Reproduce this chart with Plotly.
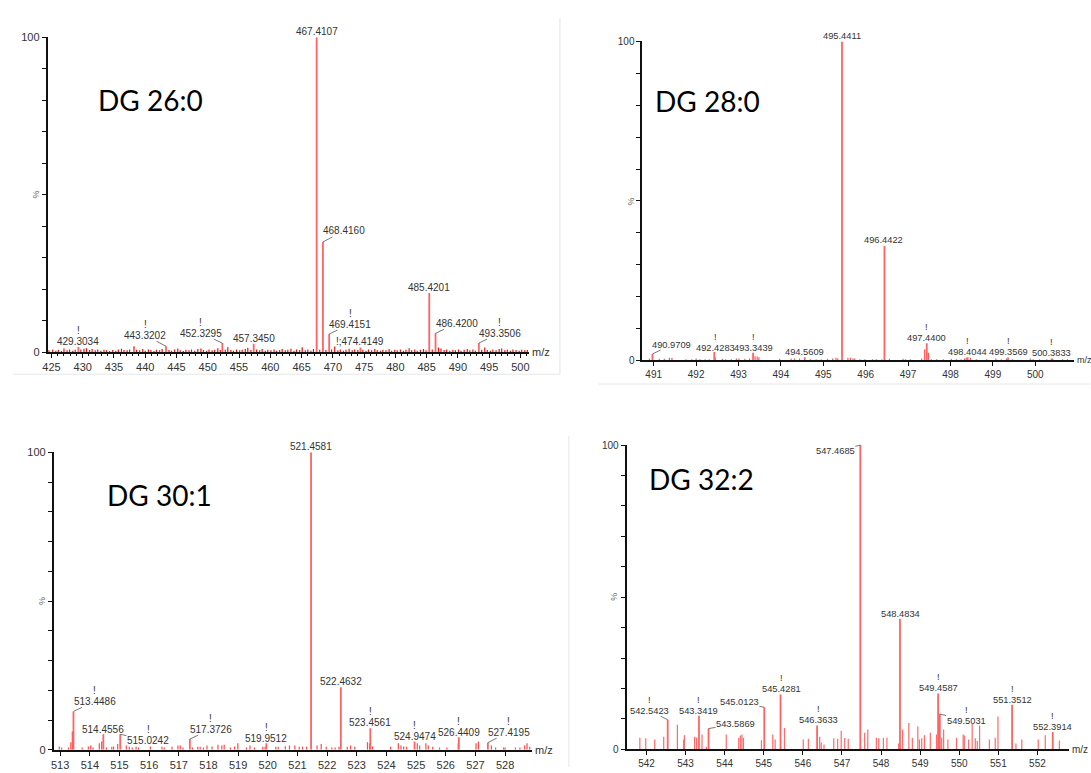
import plotly.graph_objects as go

W, H = 1091, 773

# ---------------- data ----------------
# Panel 1 : DG 26:0  (labelled peaks)
p1_mz = [429.3034, 443.3202, 452.3295, 457.3450, 467.4107, 468.4160,
         469.4151, 474.4149, 485.4201, 486.4200, 493.3506]
p1_int = [1.7, 1.9, 2.9, 2.7, 100.0, 35.0, 5.8, 1.5, 18.8, 6.0, 2.9]
p1_txt = ["429.3034", "443.3202", "452.3295", "457.3450", "467.4107", "468.4160",
          "469.4151", "!;474.4149", "485.4201", "486.4200", "493.3506"]
p1_noise = [
    (424.6, 0.6), (425.2, 0.9), (425.7, 0.5), (426.1, 0.8), (426.6, 0.4), (427.0, 1.2),
    (427.5, 0.6), (427.9, 0.9), (428.4, 0.5), (428.8, 0.8), (429.7, 0.9), (430.2, 1.1),
    (430.6, 1.3), (431.1, 0.7), (431.5, 1.0), (432.0, 0.6), (432.4, 0.9), (432.9, 0.5),
    (433.4, 0.8), (433.8, 0.6), (434.3, 0.4), (434.8, 0.7), (435.3, 0.5), (435.7, 0.9),
    (436.2, 1.1), (436.6, 0.7), (437.1, 0.6), (437.5, 0.9), (438.2, 1.9), (438.6, 0.8),
    (439.1, 0.6), (439.6, 1.0), (440.0, 0.5), (440.5, 0.9), (440.9, 0.7), (441.4, 0.4),
    (441.8, 0.8), (442.3, 0.6), (442.7, 1.0), (443.8, 0.7), (444.2, 0.5), (444.7, 0.9),
    (445.2, 1.2), (445.6, 0.6), (446.1, 0.4), (446.5, 0.8), (447.0, 0.6), (447.4, 0.9),
    (447.9, 0.5), (448.4, 1.0), (448.9, 1.2), (449.3, 0.7), (449.8, 0.5), (450.2, 0.9),
    (450.7, 0.6), (451.1, 0.8), (451.6, 1.3), (452.0, 0.7), (452.8, 0.8), (453.2, 1.6),
    (453.7, 0.7), (454.1, 0.5), (454.6, 0.9), (455.1, 0.6), (455.5, 0.8), (456.0, 1.0),
    (456.4, 1.4), (456.9, 0.7), (457.8, 0.9), (458.3, 0.6), (458.7, 1.0), (459.2, 0.5),
    (459.6, 0.8), (460.1, 0.6), (460.6, 0.9), (461.0, 0.5), (461.5, 0.7), (461.9, 1.0),
    (462.4, 0.6), (462.8, 0.8), (463.3, 1.1), (463.8, 0.5), (464.2, 0.9), (464.7, 0.7),
    (465.1, 1.6), (465.6, 0.6), (466.0, 0.9), (466.5, 0.5), (466.9, 1.0), (467.9, 0.8),
    (468.9, 0.7), (469.8, 0.9), (470.3, 1.8), (470.8, 0.6), (471.2, 0.9), (471.7, 0.5),
    (472.1, 0.8), (472.6, 1.1), (473.1, 0.6), (473.5, 0.9), (474.0, 0.7), (474.8, 0.8),
    (475.3, 0.5), (475.7, 0.9), (476.2, 0.6), (476.7, 1.0), (477.1, 0.7), (477.6, 0.5),
    (478.0, 0.8), (478.5, 0.6), (479.0, 1.0), (479.4, 0.5), (479.9, 0.8), (480.3, 0.6),
    (480.8, 0.9), (481.3, 0.5), (481.7, 0.8), (482.2, 1.3), (482.6, 0.6), (483.1, 0.9),
    (483.5, 0.5), (484.0, 0.8), (484.5, 1.0), (484.9, 0.6), (485.9, 0.9), (486.9, 1.5),
    (487.3, 1.2), (487.8, 0.7), (488.2, 0.9), (488.7, 0.5), (489.2, 0.8), (489.6, 0.6),
    (490.1, 0.9), (490.5, 0.5), (491.0, 0.8), (491.5, 1.0), (491.9, 0.6), (492.4, 0.9),
    (492.8, 0.5), (493.8, 0.8), (494.3, 1.5), (494.7, 0.7), (495.2, 0.5), (495.6, 0.9),
    (496.1, 0.6), (496.6, 1.0), (497.0, 1.2), (497.5, 0.6), (497.9, 0.8), (498.4, 0.5),
    (498.8, 0.9), (499.3, 0.7), (499.8, 0.5), (500.2, 0.8), (500.7, 0.6), (501.1, 0.7),
]

# Panel 2 : DG 28:0
p2_mz = [490.9709, 492.4283, 493.3439, 494.5609, 495.4411, 496.4422,
         497.4400, 498.4044, 499.3569, 500.3833]
p2_int = [2.0, 2.6, 2.4, 1.0, 100.0, 35.9, 5.4, 1.0, 0.9, 0.6]
p2_txt = ["490.9709", "492.4283", "493.3439", "494.5609", "495.4411", "496.4422",
          "497.4400", "498.4044", "499.3569", "500.3833"]
p2_noise = [
    (490.90, 0.6), (491.13, 0.5), (491.25, 0.5), (491.37, 0.8), (491.43, 0.8),
    (491.76, 0.4), (491.90, 0.4), (492.00, 0.6), (492.09, 0.4), (492.21, 0.4),
    (492.31, 0.4), (492.45, 1.0), (492.62, 0.5), (492.70, 0.4), (492.83, 0.4),
    (492.95, 0.6), (493.01, 0.6), (493.15, 0.5), (493.26, 0.6), (493.39, 1.3),
    (493.44, 1.2), (493.48, 1.0), (493.97, 0.5), (494.24, 0.6), (494.32, 0.6),
    (494.44, 0.6), (494.69, 0.4), (494.83, 0.4), (494.95, 0.4), (495.10, 0.5),
    (495.22, 0.6), (495.30, 0.8), (495.34, 0.6), (495.58, 0.8), (495.64, 0.8),
    (495.70, 0.6), (495.74, 0.6), (495.86, 0.4), (495.98, 0.4), (496.16, 0.4),
    (496.25, 0.4), (496.38, 0.4), (496.56, 0.5), (496.88, 0.5), (496.94, 0.4),
    (497.05, 0.4), (497.32, 0.6), (497.39, 3.4), (497.48, 2.4), (497.55, 0.4),
    (497.67, 0.4), (497.83, 0.4), (498.02, 0.5), (498.14, 0.4), (498.25, 0.4),
    (498.33, 0.6), (498.37, 0.8), (498.47, 0.8), (498.61, 0.4), (498.85, 0.4),
    (499.07, 0.6), (499.20, 0.4), (499.32, 0.6), (499.46, 0.4), (499.88, 0.6),
    (499.95, 0.4), (500.10, 0.4), (500.27, 0.4), (500.41, 0.6), (500.64, 0.4),
    (500.76, 0.4),
]

# Panel 3 : DG 30:1
p3_mz = [513.4486, 514.4556, 515.0242, 517.3726, 519.9512, 521.4581,
         522.4632, 523.4561, 524.9474, 526.4409, 527.4195]
p3_int = [12.9, 5.2, 5.2, 3.6, 2.2, 100.0, 21.0, 7.2, 2.8, 4.2, 2.4]
p3_txt = ["513.4486", "514.4556", "515.0242", "517.3726", "519.9512", "521.4581",
          "522.4632", "523.4561", "524.9474", "526.4409", "527.4195"]
p3_noise = [
    (512.97, 1.1), (513.05, 0.8), (513.28, 0.8), (513.36, 2.5), (513.41, 6.1),
    (513.74, 0.8), (513.95, 1.1), (514.03, 1.4), (514.11, 0.8), (514.32, 2.2),
    (514.40, 2.8), (514.56, 0.8), (514.74, 1.0), (514.80, 1.1), (514.94, 1.9),
    (515.23, 1.4), (515.33, 1.0), (515.43, 0.8), (515.56, 1.0), (515.64, 0.8),
    (516.04, 1.1), (516.43, 1.0), (516.51, 0.8), (516.77, 1.0), (516.97, 1.4),
    (517.05, 1.4), (517.14, 0.8), (517.46, 0.8), (517.64, 1.0), (517.72, 1.0),
    (517.83, 0.8), (517.95, 1.4), (518.12, 1.1), (518.32, 1.7), (518.45, 1.4),
    (518.53, 1.7), (518.74, 0.8), (518.88, 1.1), (518.99, 2.2), (519.28, 0.8),
    (519.40, 1.4), (519.55, 0.8), (519.83, 1.0), (519.91, 1.0), (520.27, 1.0),
    (520.35, 1.0), (520.59, 1.2), (520.73, 1.4), (520.91, 1.4), (521.06, 1.0),
    (521.17, 1.0), (521.31, 1.0), (521.66, 1.4), (521.80, 1.9), (521.97, 1.0),
    (522.16, 0.8), (522.27, 0.8), (522.40, 1.0), (522.68, 1.0), (522.79, 1.4),
    (522.93, 1.0), (523.36, 2.5), (523.43, 2.2), (523.53, 1.1), (524.14, 1.0),
    (524.40, 2.2), (524.49, 1.4), (524.58, 1.1), (524.68, 1.0), (525.04, 2.2),
    (525.12, 1.4), (525.33, 2.2), (525.41, 1.4), (525.56, 1.0), (525.79, 0.8),
    (526.04, 0.8), (526.42, 2.2), (527.02, 2.2), (527.10, 2.8), (527.54, 1.4),
    (527.68, 0.8), (527.95, 0.8), (528.00, 0.8), (528.35, 0.8), (528.50, 0.8),
    (528.66, 1.4), (528.74, 2.2), (528.83, 1.0),
]

# Panel 4 : DG 32:2
p4_mz = [542.5423, 543.3419, 543.5869, 545.0123, 545.4281, 546.3633,
         547.4685, 548.4834, 549.4587, 549.5031, 551.3512, 552.3914]
p4_int = [9.7, 11.0, 6.8, 13.8, 18.0, 7.8, 100.0, 42.9, 18.3, 11.6, 14.6, 5.7]
p4_txt = ["542.5423", "543.3419", "543.5869", "545.0123", "545.4281", "546.3633",
          "547.4685", "548.4834", "549.4587", "549.5031", "551.3512", "552.3914"]
p4_noise = [
    (541.83, 3.8), (541.98, 3.6), (542.21, 3.2), (542.44, 4.1), (542.79, 8.1),
    (542.95, 3.2), (542.97, 4.6), (543.23, 4.1), (543.28, 3.8), (543.42, 4.9),
    (543.53, 0.8), (544.04, 4.9), (544.36, 3.8), (544.40, 4.5), (544.44, 4.9),
    (544.48, 3.8), (544.94, 3.0), (545.23, 4.9), (545.29, 3.2), (545.53, 7.0),
    (546.01, 3.2), (546.14, 3.5), (546.43, 4.1), (546.47, 2.2), (546.54, 1.6),
    (546.79, 3.6), (546.89, 3.5), (546.98, 6.1), (547.07, 3.7), (547.16, 3.5),
    (547.58, 5.4), (547.66, 6.5), (547.88, 3.8), (547.94, 3.6), (548.06, 3.8),
    (548.15, 3.8), (548.45, 1.9), (548.55, 6.5), (548.71, 8.6), (548.80, 3.8),
    (548.94, 7.5), (548.98, 3.2), (549.04, 3.6), (549.11, 4.6), (549.26, 5.4),
    (549.42, 4.9), (549.55, 3.8), (549.60, 6.5), (549.71, 3.2), (549.93, 3.8),
    (550.10, 4.9), (550.13, 4.5), (550.24, 3.2), (550.33, 8.4), (550.41, 3.6),
    (550.46, 2.7), (550.52, 7.8), (550.77, 3.2), (550.92, 3.8), (550.99, 10.8),
    (551.45, 1.9), (551.60, 3.2), (552.02, 3.2), (552.20, 4.6), (552.56, 2.9),
]

titles = ["DG 26:0", "DG 28:0", "DG 30:1", "DG 32:2"]

# ---------------- layout / style (pixels of the 1091x773 page) ----------------
# label placement per peak: (dx px, dy px upward of text centre from peak top, has "!", leader line)
p1_lab = [(0, 5.6, 1, 0), (-21, 11, 1, 1), (-21.4, 10, 1, 1), (0, 5.1, 0, 0), (0, 6, 0, 0),
          (21, 11, 0, 1), (21, 9.8, 1, 1), (0, 6.2, 0, 0), (0, 5.3, 0, 0), (21, 10, 0, 1),
          (20.7, 10, 1, 1)]
p2_lab = [(19.2, 9.5, 0, 1), (0.8, 4.4, 1, 0), (0.4, 4.8, 1, 0), (0, 5.4, 0, 0), (0, 5.7, 0, 0),
          (-1, 5.9, 0, 0), (0, 5.1, 1, 0), (0, 5.4, 1, 0), (0, 5.7, 1, 0), (0, 5.1, 1, 0)]
p3_lab = [(21.4, 10, 1, 1), (0, 5.3, 0, 0), (27.9, -5.7, 1, 1), (21, 9.8, 1, 1), (0, 5.1, 1, 0),
          (0, 5.6, 0, 0), (0, 5.9, 0, 0), (0, 5.6, 1, 0), (0, 4.9, 1, 0), (0, 5.0, 1, 0),
          (20.7, 10.5, 1, 1)]
p4_lab = [(-18, 9, 1, 1), (0, 5, 1, 0), (27.1, 4.7, 0, 1), (-24.9, 5.1, 0, 1), (1, 5.4, 1, 0),
          (1, 5.6, 1, 0), (-25, -6.3, 0, 1), (0.7, 5.1, 0, 0), (0, 5.2, 1, 0), (26.2, -6.8, 1, 1),
          (0, 4.9, 1, 0), (0, 5.1, 1, 0)]

# panel geometry in page pixels: x0, x1, ytop, ybottom ; axis ranges
panels = [
    dict(px=(43, 526.7), py=(31.7, 351.7), xr=(424.41, 501.34), tick0=425, dtick=5, minor=1,
         tfs=11, lfs=10, title_c=(146, 95), mzfs=11),
    dict(px=(641, 1075), py=(36, 360), xr=(490.735, 500.915), tick0=491, dtick=1, minor=None,
         tfs=10, lfs=9.3, title_c=(706, 97), mzfs=9),
    dict(px=(49.2, 530), py=(453.3, 755.5), xr=(512.79, 528.91), tick0=513, dtick=1, minor=None,
         tfs=11, lfs=10, title_c=(155, 497), mzfs=11),
    dict(px=(625, 1070), py=(446, 755), xr=(541.49, 552.81), tick0=542, dtick=1, minor=None,
         tfs=10, lfs=9.3, title_c=(700, 480), mzfs=10),
]

data_sets = [
    (p1_mz, p1_int, p1_txt, p1_noise, p1_lab),
    (p2_mz, p2_int, p2_txt, p2_noise, p2_lab),
    (p3_mz, p3_int, p3_txt, p3_noise, p3_lab),
    (p4_mz, p4_int, p4_txt, p4_noise, p4_lab),
]

PEAK_COL = "#ff6464"
NOISE_COLS = ["#e81414", "#ff5a5a", "#ff4a4a", "#ff6a6a"]
TXT_COL = "#333333"
FONT = "Liberation Sans, Arial, sans-serif"


def sticks(mz, inten):
    xs, ys = [], []
    for m, i in zip(mz, inten):
        xs += [m, m, None]
        ys += [0, i, None]
    return xs, ys


fig = go.Figure()
annotations = []
layout_axes = {}

for k, (pan, (mz, it, txt, noise, lab)) in enumerate(zip(panels, data_sets)):
    n = k + 1
    xa = "x" if n == 1 else f"x{n}"
    ya = "y" if n == 1 else f"y{n}"
    xkey = "xaxis" if n == 1 else f"xaxis{n}"
    ykey = "yaxis" if n == 1 else f"yaxis{n}"

    nx, ny = sticks([a for a, b in noise], [b for a, b in noise])
    fig.add_trace(go.Scatter(x=nx, y=ny, mode="lines", xaxis=xa, yaxis=ya,
                             line=dict(color=NOISE_COLS[k], width=1.2),
                             hoverinfo="skip", showlegend=False))
    sx, sy = sticks(mz, it)
    fig.add_trace(go.Scatter(x=sx, y=sy, mode="lines", xaxis=xa, yaxis=ya,
                             line=dict(color=PEAK_COL, width=1.8),
                             hoverinfo="skip", showlegend=False))

    x0, x1 = pan["px"]
    yt, yb = pan["py"]
    xaxis = dict(domain=[x0 / W, x1 / W], range=list(pan["xr"]), anchor=ya,
                 showline=True, linecolor="#111", linewidth=1.5, mirror=False,
                 ticks="outside", ticklen=4, tickwidth=1, tickcolor="#111",
                 tick0=pan["tick0"], dtick=pan["dtick"], showgrid=False, zeroline=False,
                 tickfont=dict(family=FONT, size=pan["tfs"], color=TXT_COL))
    if pan["minor"]:
        xaxis["minor"] = dict(ticks="outside", ticklen=2, dtick=pan["minor"],
                              tickcolor="#111", showgrid=False)
    yvals = list(range(0, 101, 10))
    ytext = ["0"] + [""] * 9 + ["100"]
    yaxis = dict(domain=[1 - yb / H, 1 - yt / H], range=[0, 100], anchor=xa,
                 showline=True, linecolor="#111", linewidth=2,
                 ticks="outside", ticklen=4, tickwidth=1, tickcolor="#111",
                 tickvals=yvals, ticktext=ytext, showgrid=False, zeroline=False,
                 tickfont=dict(family=FONT, size=pan["tfs"], color=TXT_COL))
    layout_axes[xkey] = xaxis
    layout_axes[ykey] = yaxis

    lf = dict(family=FONT, size=pan["lfs"], color=TXT_COL)
    for m, i, t, (dx, dy, bang, leader) in zip(mz, it, txt, lab):
        if leader:
            annotations.append(dict(x=m, y=i, xref=xa, yref=ya, text=t, showarrow=True,
                                    ax=dx, ay=-dy, arrowhead=0, arrowwidth=0.8,
                                    arrowcolor="#555", standoff=0, startstandoff=0,
                                    font=lf, borderpad=0))
        else:
            annotations.append(dict(x=m, y=i, xref=xa, yref=ya, text=t, showarrow=False,
                                    xshift=dx, yshift=dy, xanchor="center", yanchor="middle",
                                    font=lf))
        if bang:
            annotations.append(dict(x=m, y=i, xref=xa, yref=ya, text="!", showarrow=False,
                                    xshift=dx, yshift=dy + 11, xanchor="center",
                                    yanchor="middle", font=lf))

    # "%" on y axis and "m/z" after x axis
    annotations.append(dict(x=0, y=50, xref=f"{xa} domain", yref=ya, text="%",
                            showarrow=False, textangle=-90, xanchor="right", xshift=-5,
                            font=dict(family=FONT, size=9, color="#666")))
    annotations.append(dict(x=1, y=0, xref=f"{xa} domain", yref=ya, text="m/z",
                            showarrow=False, xanchor="left", yanchor="middle", xshift=1,
                            font=dict(family=FONT, size=pan["mzfs"], color=TXT_COL)))
    # panel title
    cx, cy = pan["title_c"]
    annotations.append(dict(x=cx / W, y=1 - cy / H, xref="paper", yref="paper",
                            text=titles[k], showarrow=False, xanchor="center",
                            yanchor="middle",
                            font=dict(family="Lato, Carlito, sans-serif", size=28,
                                      color="#000")))

# faint screenshot borders
BORDER = "#e6e6e6"
shapes = [
    dict(type="line", xref="paper", yref="paper", x0=8 / W, x1=558 / W,
         y0=1 - 374 / H, y1=1 - 374 / H, line=dict(color=BORDER, width=1)),
    dict(type="line", xref="paper", yref="paper", x0=558 / W, x1=558 / W,
         y0=1 - 12 / H, y1=1 - 374 / H, line=dict(color=BORDER, width=1)),
    dict(type="line", xref="paper", yref="paper", x0=597 / W, x1=1,
         y0=1 - 384 / H, y1=1 - 384 / H, line=dict(color=BORDER, width=1)),
    dict(type="line", xref="paper", yref="paper", x0=567 / W, x1=567 / W,
         y0=1 - 437 / H, y1=0, line=dict(color=BORDER, width=1)),
]

fig.update_layout(width=W, height=H, margin=dict(l=0, r=0, t=0, b=0),
                  paper_bgcolor="white", plot_bgcolor="white",
                  showlegend=False, annotations=annotations, shapes=shapes,
                  **layout_axes)

fig.write_html("out.html")
